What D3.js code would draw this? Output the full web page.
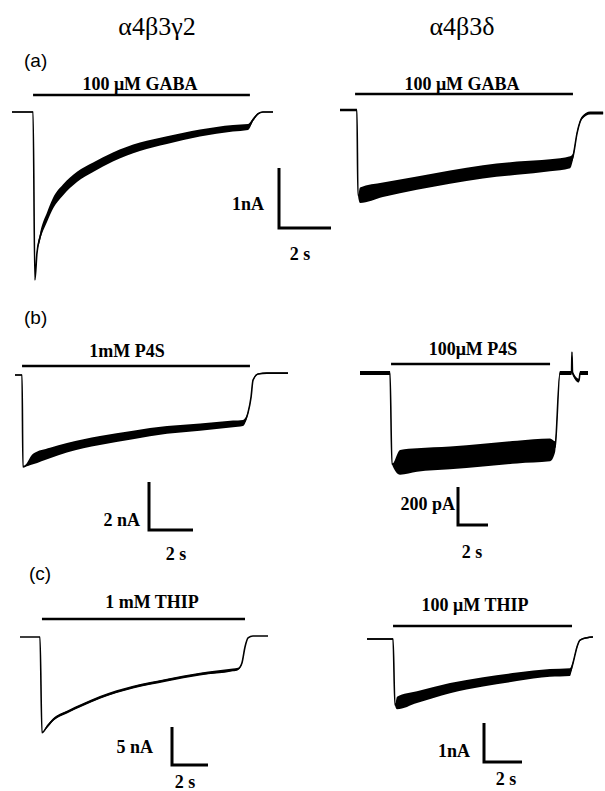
<!DOCTYPE html>
<html>
<head>
<meta charset="utf-8">
<script src="https://cdn.jsdelivr.net/npm/d3@7"></script>
<style>
  body { margin: 0; background: #fff; }
  svg { display: block; }
  .drug, .sbar-label { font-family: 'Liberation Serif', 'Times New Roman', serif; font-weight: bold; font-size: 18px; }
  .col-title { font-family: 'Liberation Serif', 'Times New Roman', serif; font-size: 26px; }
  .panel-letter { font-family: 'Liberation Sans', Arial, sans-serif; font-size: 19px; }
</style>
</head>
<body>
<div id="fig"></div>
<script>
// column headers and panel letters
const columns = ['α4β3γ2', 'α4β3δ'];
const panelLetters = ['(a)', '(b)', '(c)'];

// drug applications (s)
const drugs = ['100 μM GABA', '100 μM GABA', '1mM P4S', '100μM P4S', '1 mM THIP', '100 μM THIP'];
const drugOn = [0.81, 0.58, 0.32, 2.07, 1.22, 1.37];
const drugOff = [9.15, 8.96, 10.68, 12.67, 12.5, 10.79];

// scale bars
const scaleCurrent = [1, null, 2, 0.2, 5, 1];       // nA
const scaleCurrentLabel = ['1nA', null, '2 nA', '200 pA', '5 nA', '1nA'];
const scaleTime = 2;                                // s

// traces: time (s), current (nA), half width of the noise band (nA)
const aGammaT = [0, 0.81, 0.88, 0.96, 1.08, 1.35, 1.58, 1.96, 2.5, 3.12, 3.88, 4.92, 5.96, 7.23, 8.5, 9.08, 9.27, 9.46, 9.65, 10.04];
const aGammaI = [0, 0, -2.8, -2.35, -2.08, -1.75, -1.52, -1.3, -1.08, -0.92, -0.75, -0.58, -0.47, -0.35, -0.27, -0.25, -0.13, -0.03, 0, 0];
const aGammaN = [0.01, 0.01, 0, 0.03, 0.06, 0.08, 0.09, 0.09, 0.085, 0.08, 0.075, 0.07, 0.065, 0.06, 0.055, 0.05, 0.025, 0.015, 0.01, 0.01];

const aDeltaT = [0, 0.65, 0.69, 0.77, 1.65, 2.96, 4.23, 5.5, 6.81, 8.08, 8.85, 8.96, 9.12, 9.31, 9.62, 10.12];
const aDeltaI = [0, 0, -1.42, -1.42, -1.33, -1.22, -1.12, -1.03, -0.97, -0.92, -0.87, -0.78, -0.38, -0.13, -0.05, -0.05];
const aDeltaN = [0.02, 0.02, 0, 0.13, 0.12, 0.11, 0.11, 0.11, 0.11, 0.1, 0.1, 0.05, 0.025, 0.025, 0.025, 0.025];

const bGammaT = [0, 0.32, 0.36, 0.82, 1.59, 2.36, 3.86, 5.36, 6.91, 8.41, 9.91, 10.36, 10.59, 10.73, 10.82, 11.05, 11.45, 12.41];
const bGammaI = [0, 0, -3.83, -3.5, -3.25, -3.03, -2.73, -2.5, -2.29, -2.17, -2.04, -2.0, -1.58, -0.92, -0.21, 0.04, 0.08, 0.08];
const bGammaN = [0.02, 0.02, 0, 0.22, 0.22, 0.2, 0.19, 0.18, 0.16, 0.15, 0.14, 0.13, 0.06, 0.04, 0.04, 0.02, 0.02, 0.02];

const bDeltaT = [0, 2.0, 2.13, 2.67, 3.8, 6.0, 8.2, 10.47, 12.67, 13.0, 13.33, 14.1, 14.13, 14.17, 14.6, 14.67, 15.2];
const bDeltaI = [0, 0, -0.48, -0.47, -0.458, -0.447, -0.432, -0.416, -0.405, -0.389, 0, 0, 0.11, 0, -0.04, 0, 0];
const bDeltaN = [0.01, 0.01, 0, 0.065, 0.062, 0.06, 0.06, 0.06, 0.06, 0.03, 0.01, 0.01, 0, 0.01, 0.01, 0.01, 0.01];

const cGammaT = [0, 1.11, 1.22, 1.5, 1.83, 2.61, 3.5, 4.44, 6.28, 8.17, 10.0, 11.83, 12.11, 12.33, 12.5, 12.67, 12.94, 13.78];
const cGammaI = [0, 0, -12.6, -11.8, -10.9, -9.87, -8.9, -7.95, -6.6, -5.66, -4.87, -4.34, -4.21, -3.42, -1.32, -0.13, 0.13, 0.13];
const cGammaN = [0, 0, 0, 0.18, 0.18, 0.18, 0.18, 0.18, 0.18, 0.18, 0.18, 0.18, 0.15, 0.08, 0, 0, 0, 0];

const cDeltaT = [0, 1.37, 1.47, 1.58, 2.63, 4.37, 6.11, 7.89, 9.63, 10.68, 10.84, 11.05, 11.21, 11.58, 11.89];
const cDeltaI = [0, 0, -1.69, -1.64, -1.49, -1.26, -1.1, -0.97, -0.87, -0.85, -0.62, -0.21, -0.03, 0.03, 0.05];
const cDeltaN = [0.02, 0.02, 0, 0.16, 0.15, 0.13, 0.12, 0.11, 0.1, 0.1, 0.04, 0.03, 0.02, 0.02, 0.02];

const traces = [
  [aGammaT, aGammaI, aGammaN], [aDeltaT, aDeltaI, aDeltaN],
  [bGammaT, bGammaI, bGammaN], [bDeltaT, bDeltaI, bDeltaN],
  [cGammaT, cGammaI, cGammaN], [cDeltaT, cDeltaI, cDeltaN]
];

// layout of each panel, in pixels
const layout = [
  { x0: 12, y0: 112, pxS: 26, pxNA: 60, barY: 95, labelX: 140, labelY: 90, sb: [279, 228], curLab: [264, 210], timeLab: [300, 260] },
  { x0: 340, y0: 110, pxS: 26, pxNA: 60, barY: 94, labelX: 462, labelY: 90 },
  { x0: 15, y0: 375, pxS: 22, pxNA: 24, barY: 366, labelX: 127, labelY: 357, sb: [149, 530], curLab: [140, 526], timeLab: [176, 560] },
  { x0: 360, y0: 373, pxS: 15, pxNA: 190, barY: 364, labelX: 473, labelY: 355, sb: [458, 525], curLab: [455, 510], timeLab: [472, 558] },
  { x0: 20, y0: 637, pxS: 18, pxNA: 7.6, barY: 619, labelX: 152, labelY: 608, sb: [172, 765], curLab: [153, 753], timeLab: [185, 788] },
  { x0: 367, y0: 639, pxS: 19, pxNA: 39, barY: 626, labelX: 475, labelY: 611, sb: [484, 762], curLab: [470, 757], timeLab: [506, 785] }
];

const width = 605, height = 791;
const svg = d3.select('#fig').append('svg')
  .attr('width', width)
  .attr('height', height);

// column titles
svg.selectAll('.col-title')
  .data(columns)
  .enter()
  .append('text')
  .attr('class', 'col-title')
  .attr('x', (d, i) => [157, 462][i])
  .attr('y', 35)
  .attr('text-anchor', 'middle')
  .text(d => d);

// panel letters
svg.selectAll('.panel-letter')
  .data(panelLetters)
  .enter()
  .append('text')
  .attr('class', 'panel-letter')
  .attr('x', (d, i) => [24, 24, 29][i])
  .attr('y', (d, i) => [67, 324, 580][i])
  .text(d => d);

layout.forEach((p, i) => drawPanel(p, i));

function drawPanel (p, i) {
  const x = d3.scaleLinear().domain([0, 1]).range([p.x0, p.x0 + p.pxS]);
  const y = d3.scaleLinear().domain([0, -1]).range([p.y0, p.y0 + p.pxNA]);
  const [ts, is, ns] = traces[i];
  const pts = ts.map((t, k) => ({ t: t, v: is[k], n: ns[k] }));
  const g = svg.append('g').attr('class', 'panel' + i);

  // noise band
  g.append('path')
    .datum(pts)
    .attr('fill', '#000')
    .attr('d', d3.area()
      .curve(d3.curveMonotoneX)
      .x(d => x(d.t))
      .y0(d => y(d.v - d.n))
      .y1(d => y(d.v + d.n)));

  // trace
  g.append('path')
    .datum(pts)
    .attr('fill', 'none')
    .attr('stroke', '#000')
    .attr('stroke-width', 1.6)
    .attr('d', d3.line().curve(d3.curveMonotoneX).x(d => x(d.t)).y(d => y(d.v)));

  // drug application bar
  g.append('line')
    .attr('x1', x(drugOn[i]))
    .attr('x2', x(drugOff[i]))
    .attr('y1', p.barY)
    .attr('y2', p.barY)
    .attr('stroke', '#000')
    .attr('stroke-width', 2.5);

  g.append('text')
    .attr('class', 'drug')
    .attr('x', p.labelX)
    .attr('y', p.labelY)
    .attr('text-anchor', 'middle')
    .text(drugs[i]);

  if (!p.sb) return;

  // scale bar
  const sx = p.sb[0], sy = p.sb[1];
  const hLen = x(scaleTime) - x(0);
  const vLen = y(-scaleCurrent[i]) - y(0);
  g.append('path')
    .attr('d', `M${sx},${sy - vLen}V${sy}H${sx + hLen}`)
    .attr('fill', 'none')
    .attr('stroke', '#000')
    .attr('stroke-width', 3);

  g.append('text')
    .attr('class', 'sbar-label')
    .attr('x', p.curLab[0])
    .attr('y', p.curLab[1])
    .attr('text-anchor', 'end')
    .text(scaleCurrentLabel[i]);

  g.append('text')
    .attr('class', 'sbar-label')
    .attr('x', p.timeLab[0])
    .attr('y', p.timeLab[1])
    .attr('text-anchor', 'middle')
    .text(scaleTime + ' s');
}
</script>
</body>
</html>
